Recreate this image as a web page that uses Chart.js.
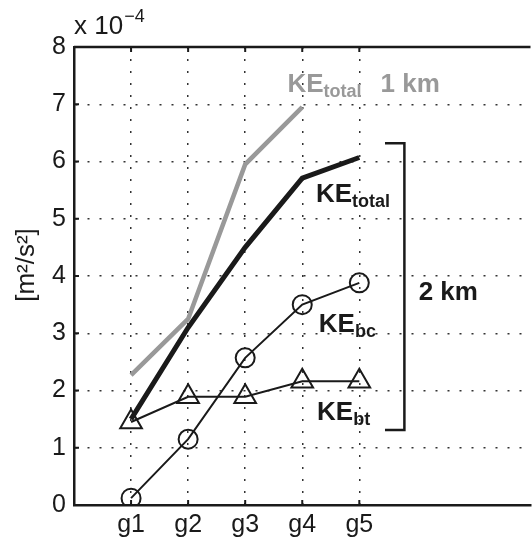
<!DOCTYPE html>
<html><head><meta charset="utf-8">
<script src="https://cdn.jsdelivr.net/npm/chart.js@4/dist/chart.umd.min.js"></script>
<style>
html,body{margin:0;padding:0;overflow:hidden;background:#fff;width:532px;height:543px}
#wrap{position:relative;width:545px;height:543px}
canvas{display:block}
</style>
</head><body><div id="wrap"><canvas id="c" width="545" height="543"></canvas></div>
<script>
// ---- data (values in units of 1e-4 m^2/s^2) ----
const categories = ['g1', 'g2', 'g3', 'g4', 'g5'];
const keTotal1km = [2.27, 3.25, 5.95, 6.95];
const keTotal2km = [1.50, 3.10, 4.50, 5.71, 6.07];
const keBc       = [0.12, 1.15, 2.57, 3.50, 3.88];
const keBt       = [1.45, 1.89, 1.89, 2.16, 2.16];
const yTicks     = [0, 1, 2, 3, 4, 5, 6, 7, 8];
const yExponent  = '\u22124';

const FONT = '"Liberation Sans", Arial, Helvetica, sans-serif';
const toPts = arr => arr.map((v, i) => ({ x: i + 1, y: v }));

const annotations = {
  id: 'annotations',
  afterDraw(chart) {
    const { ctx, chartArea: ca, scales: { x, y } } = chart;
    ctx.save();
    // top solid frame line
    ctx.strokeStyle = '#1a1a1a';
    ctx.lineWidth = 2.5;
    ctx.beginPath();
    ctx.moveTo(ca.left, ca.top);
    ctx.lineTo(ca.right, ca.top);
    ctx.stroke();
    // inward tick marks
    ctx.lineWidth = 2;
    ctx.beginPath();
    categories.forEach((c, i) => {
      const px = x.getPixelForValue(i + 1);
      ctx.moveTo(px, ca.bottom); ctx.lineTo(px, ca.bottom - 5);
      ctx.moveTo(px, ca.top); ctx.lineTo(px, ca.top + 5);
    });
    yTicks.forEach(v => {
      const py = y.getPixelForValue(v);
      ctx.moveTo(ca.left, py); ctx.lineTo(ca.left + 5, py);
    });
    ctx.stroke();

    const sub = (main, s, vx, vy, color, tail) => {
      let px = x.getPixelForValue(vx), py = y.getPixelForValue(vy);
      ctx.fillStyle = color;
      ctx.textAlign = 'left';
      ctx.textBaseline = 'alphabetic';
      ctx.font = 'bold 26px ' + FONT;
      ctx.fillText(main, px, py);
      px += ctx.measureText(main).width;
      ctx.font = 'bold 18px ' + FONT;
      ctx.fillText(s, px, py + 5);
      if (tail) {
        px += ctx.measureText(s).width + 19;
        ctx.font = 'bold 26px ' + FONT;
        ctx.fillText(tail, px, py);
      }
    };
    sub('KE', 'total', 3.74, 7.21, '#999999', '1 km');
    sub('KE', 'total', 4.24, 5.29, '#1a1a1a');
    sub('KE', 'bc', 4.29, 3.02, '#1a1a1a');
    sub('KE', 'bt', 4.26, 1.48, '#1a1a1a');

    ctx.fillStyle = '#1a1a1a';
    ctx.font = 'bold 26px ' + FONT;
    ctx.fillText('2 km', x.getPixelForValue(6.04), y.getPixelForValue(3.58));

    // bracket for the 2 km group
    const bx = x.getPixelForValue(5.79), bl = x.getPixelForValue(5.45);
    const bt = y.getPixelForValue(6.32), bb = y.getPixelForValue(1.31);
    ctx.lineWidth = 2.5;
    ctx.strokeStyle = '#1a1a1a';
    ctx.beginPath();
    ctx.moveTo(bl, bt); ctx.lineTo(bx, bt); ctx.lineTo(bx, bb); ctx.lineTo(bl, bb);
    ctx.stroke();

    // exponent label
    ctx.font = '26px ' + FONT;
    ctx.fillStyle = '#1a1a1a';
    ctx.fillText('x 10', ca.left, 34);
    const w = ctx.measureText('x 10').width;
    ctx.font = '18px ' + FONT;
    ctx.fillText(yExponent, ca.left + w + 1, 22);

    // y axis title
    ctx.save();
    ctx.translate(27, 265);
    ctx.rotate(-Math.PI / 2);
    ctx.textAlign = 'center';
    ctx.textBaseline = 'middle';
    ctx.font = '26px ' + FONT;
    ctx.fillText('[m\u00B2/s\u00B2]', 0, 0);
    ctx.restore();
    ctx.restore();
  }
};

new Chart(document.getElementById('c'), {
  type: 'line',
  data: {
    datasets: [
      { data: toPts(keTotal1km), borderColor: '#999999', borderWidth: 4.5, pointRadius: 0, tension: 0 },
      { data: toPts(keTotal2km), borderColor: '#1a1a1a', borderWidth: 5, pointRadius: 0, tension: 0 },
      { data: toPts(keBc), borderColor: '#1a1a1a', borderWidth: 2, pointStyle: 'circle', pointRadius: 9.5,
        pointBorderWidth: 2, pointBackgroundColor: 'rgba(0,0,0,0)', pointBorderColor: '#1a1a1a', tension: 0 },
      { data: toPts(keBt), borderColor: '#1a1a1a', borderWidth: 2, pointStyle: 'triangle', pointRadius: 12.5,
        pointBorderWidth: 2, pointBackgroundColor: 'rgba(0,0,0,0)', pointBorderColor: '#1a1a1a', tension: 0 }
    ]
  },
  options: {
    responsive: false,
    animation: false,
    events: [],
    layout: { padding: { top: 47, right: 7, left: 0, bottom: 0 } },
    plugins: { legend: { display: false }, tooltip: { enabled: false } },
    scales: {
      x: {
        type: 'linear', min: 0, max: 8,
        afterBuildTicks: s => { s.ticks = categories.map((c, i) => ({ value: i + 1 })); },
        afterFit: s => { s.height = 38; },
        ticks: { callback: v => categories[v - 1] ?? '', font: { family: FONT, size: 25 }, color: '#1a1a1a', padding: 5, maxRotation: 0 },
        grid: { color: '#333', lineWidth: 1.5, drawTicks: false },
        border: { display: true, color: '#1a1a1a', width: 2.5, dash: [2, 10] }
      },
      y: {
        type: 'linear', min: 0, max: 8,
        afterBuildTicks: s => { s.ticks = yTicks.map(v => ({ value: v })); },
        afterFit: s => { s.width = 74; },
        ticks: { font: { family: FONT, size: 25 }, color: '#1a1a1a', padding: 8 },
        grid: { color: '#333', lineWidth: 1.5, drawTicks: false },
        border: { display: true, color: '#1a1a1a', width: 2.5, dash: [2, 10] }
      }
    }
  },
  plugins: [annotations]
});
</script>
</body></html>
